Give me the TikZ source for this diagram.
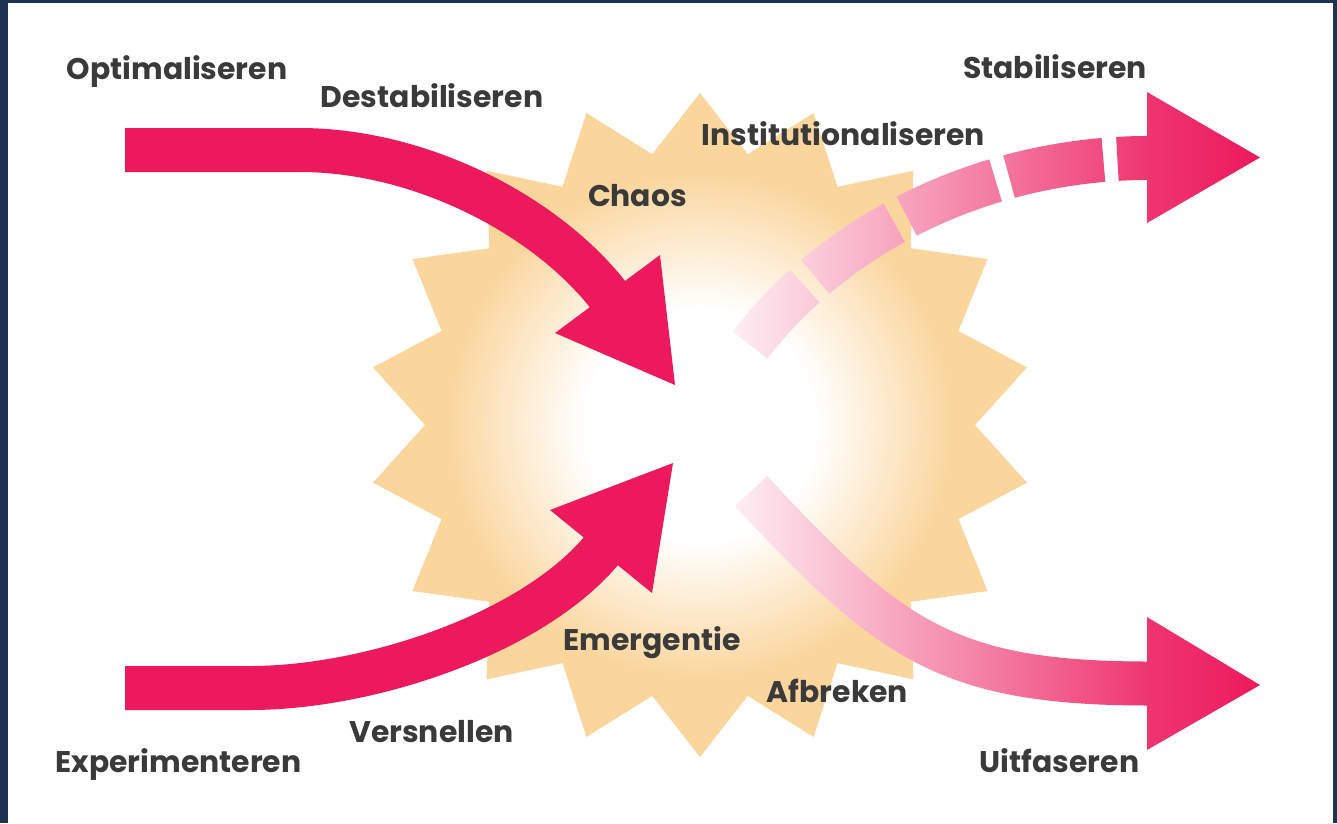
\documentclass[tikz,border=0pt]{standalone}
\usepackage{fontspec}
\setmainfont{Poppins}
\usetikzlibrary{fadings}
\definecolor{pinkC}{RGB}{236,26,92}
\definecolor{burstC}{RGB}{250,213,156}
\definecolor{txtC}{RGB}{58,58,58}
\definecolor{navyC}{RGB}{28,52,82}
\pgfdeclareradialshading{glow}{\pgfpoint{0bp}{0bp}}{color(0bp)=(white); color(66bp)=(white); color(145bp)=(burstC); color(200bp)=(burstC)}
\tikzfading[name=fadeLR, left color=transparent!94, right color=transparent!8]
\begin{document}
\begin{tikzpicture}[x=0.02cm,y=-0.02cm,
  lbl/.style={font=\fontsize{17}{20}\selectfont\bfseries, text=txtC, inner sep=0pt, anchor=base},
  shaft/.style={line width=0.88cm, line cap=butt},
  solidshaft/.style={shaft, draw=pinkC},
  fadeshaft/.style={shaft, draw=pinkC, path fading=fadeLR},
  undershaft/.style={shaft, draw=white},
  dashes/.style={dash pattern=on 1.92cm off 0.28cm, dash phase=0.31cm},
  headsolid/.style={fill=pinkC},
  headfade/.style={left color=pinkC!88!white, right color=pinkC}]
% frame
\fill[navyC] (0,0) rectangle (1337,823);
\fill[white] (8,3) rectangle (1333,823);
\useasboundingbox (0,0) rectangle (1337,823);
% starburst
\begin{scope}[shift={(700,425)}]
\clip (10:332) \foreach \i in {1,...,18}{ -- ({20*\i}:275) -- ({20*\i+10}:332) } -- cycle;
\node[inner sep=0pt] (glow) at (0,0) {\pgfuseshading{glow}};
\end{scope}
% coordinates
\coordinate (optS) at (125,150);
\coordinate (optE) at (610.5,298);
\coordinate (optT) at (675,385);
\coordinate (optW1) at (660,255);
\coordinate (optW2) at (555,333);
\coordinate (expS) at (125,688);
\coordinate (expE) at (603.5,548);
\coordinate (expT) at (673,463);
\coordinate (expW1) at (550,510);
\coordinate (expW2) at (652,593);
\coordinate (stbS) at (750,345);
\coordinate (stbE) at (1149,158);
\coordinate (stbT) at (1260,157.5);
\coordinate (stbW1) at (1147,92);
\coordinate (stbW2) at (1147,223);
\coordinate (uitS) at (751,491);
\coordinate (uitE) at (1149,683.5);
\coordinate (uitT) at (1260,685);
\coordinate (uitW1) at (1147,617);
\coordinate (uitW2) at (1147,750);
% incoming arrows
\draw[solidshaft] (optS) -- (300,150) .. controls (420,150) and (547,215) .. (optE);
\fill[headsolid] (optW1) -- (optT) -- (optW2) -- cycle;
\draw[solidshaft] (expS) -- (250,688) .. controls (370,688) and (534.5,633) .. (expE);
\fill[headsolid] (expW1) -- (expT) -- (expW2) -- cycle;
% outgoing dashed arrow
\draw[undershaft, dashes] (stbS) .. controls (843,225) and (995,158) .. (stbE);
\draw[fadeshaft, dashes] (stbS) .. controls (843,225) and (995,158) .. (stbE);
\shade[headfade] (stbW1) -- (stbT) -- (stbW2) -- cycle;
% outgoing solid faded arrow
\draw[undershaft] (uitS) .. controls (889,640) and (947,683.5) .. (uitE);
\draw[fadeshaft] (uitS) .. controls (889,640) and (947,683.5) .. (uitE);
\shade[headfade] (uitW1) -- (uitT) -- (uitW2) -- cycle;
% labels
\node[lbl] (opt) at (177,79) {Optimaliseren};
\node[lbl] (dest) at (432,107) {Destabiliseren};
\node[lbl] (stab) at (1055,78) {Stabiliseren};
\node[lbl] (inst) at (843.5,145) {Institutionaliseren};
\node[lbl] (chaos) at (637.5,206) {Chaos};
\node[lbl] (emer) at (652,650) {Emergentie};
\node[lbl] (afbr) at (837.5,702) {Afbreken};
\node[lbl] (vers) at (431.5,742) {Versnellen};
\node[lbl] (exp) at (178.5,772) {Experimenteren};
\node[lbl] (uitf) at (1059.5,772) {Uitfaseren};
\end{tikzpicture}
\end{document}
